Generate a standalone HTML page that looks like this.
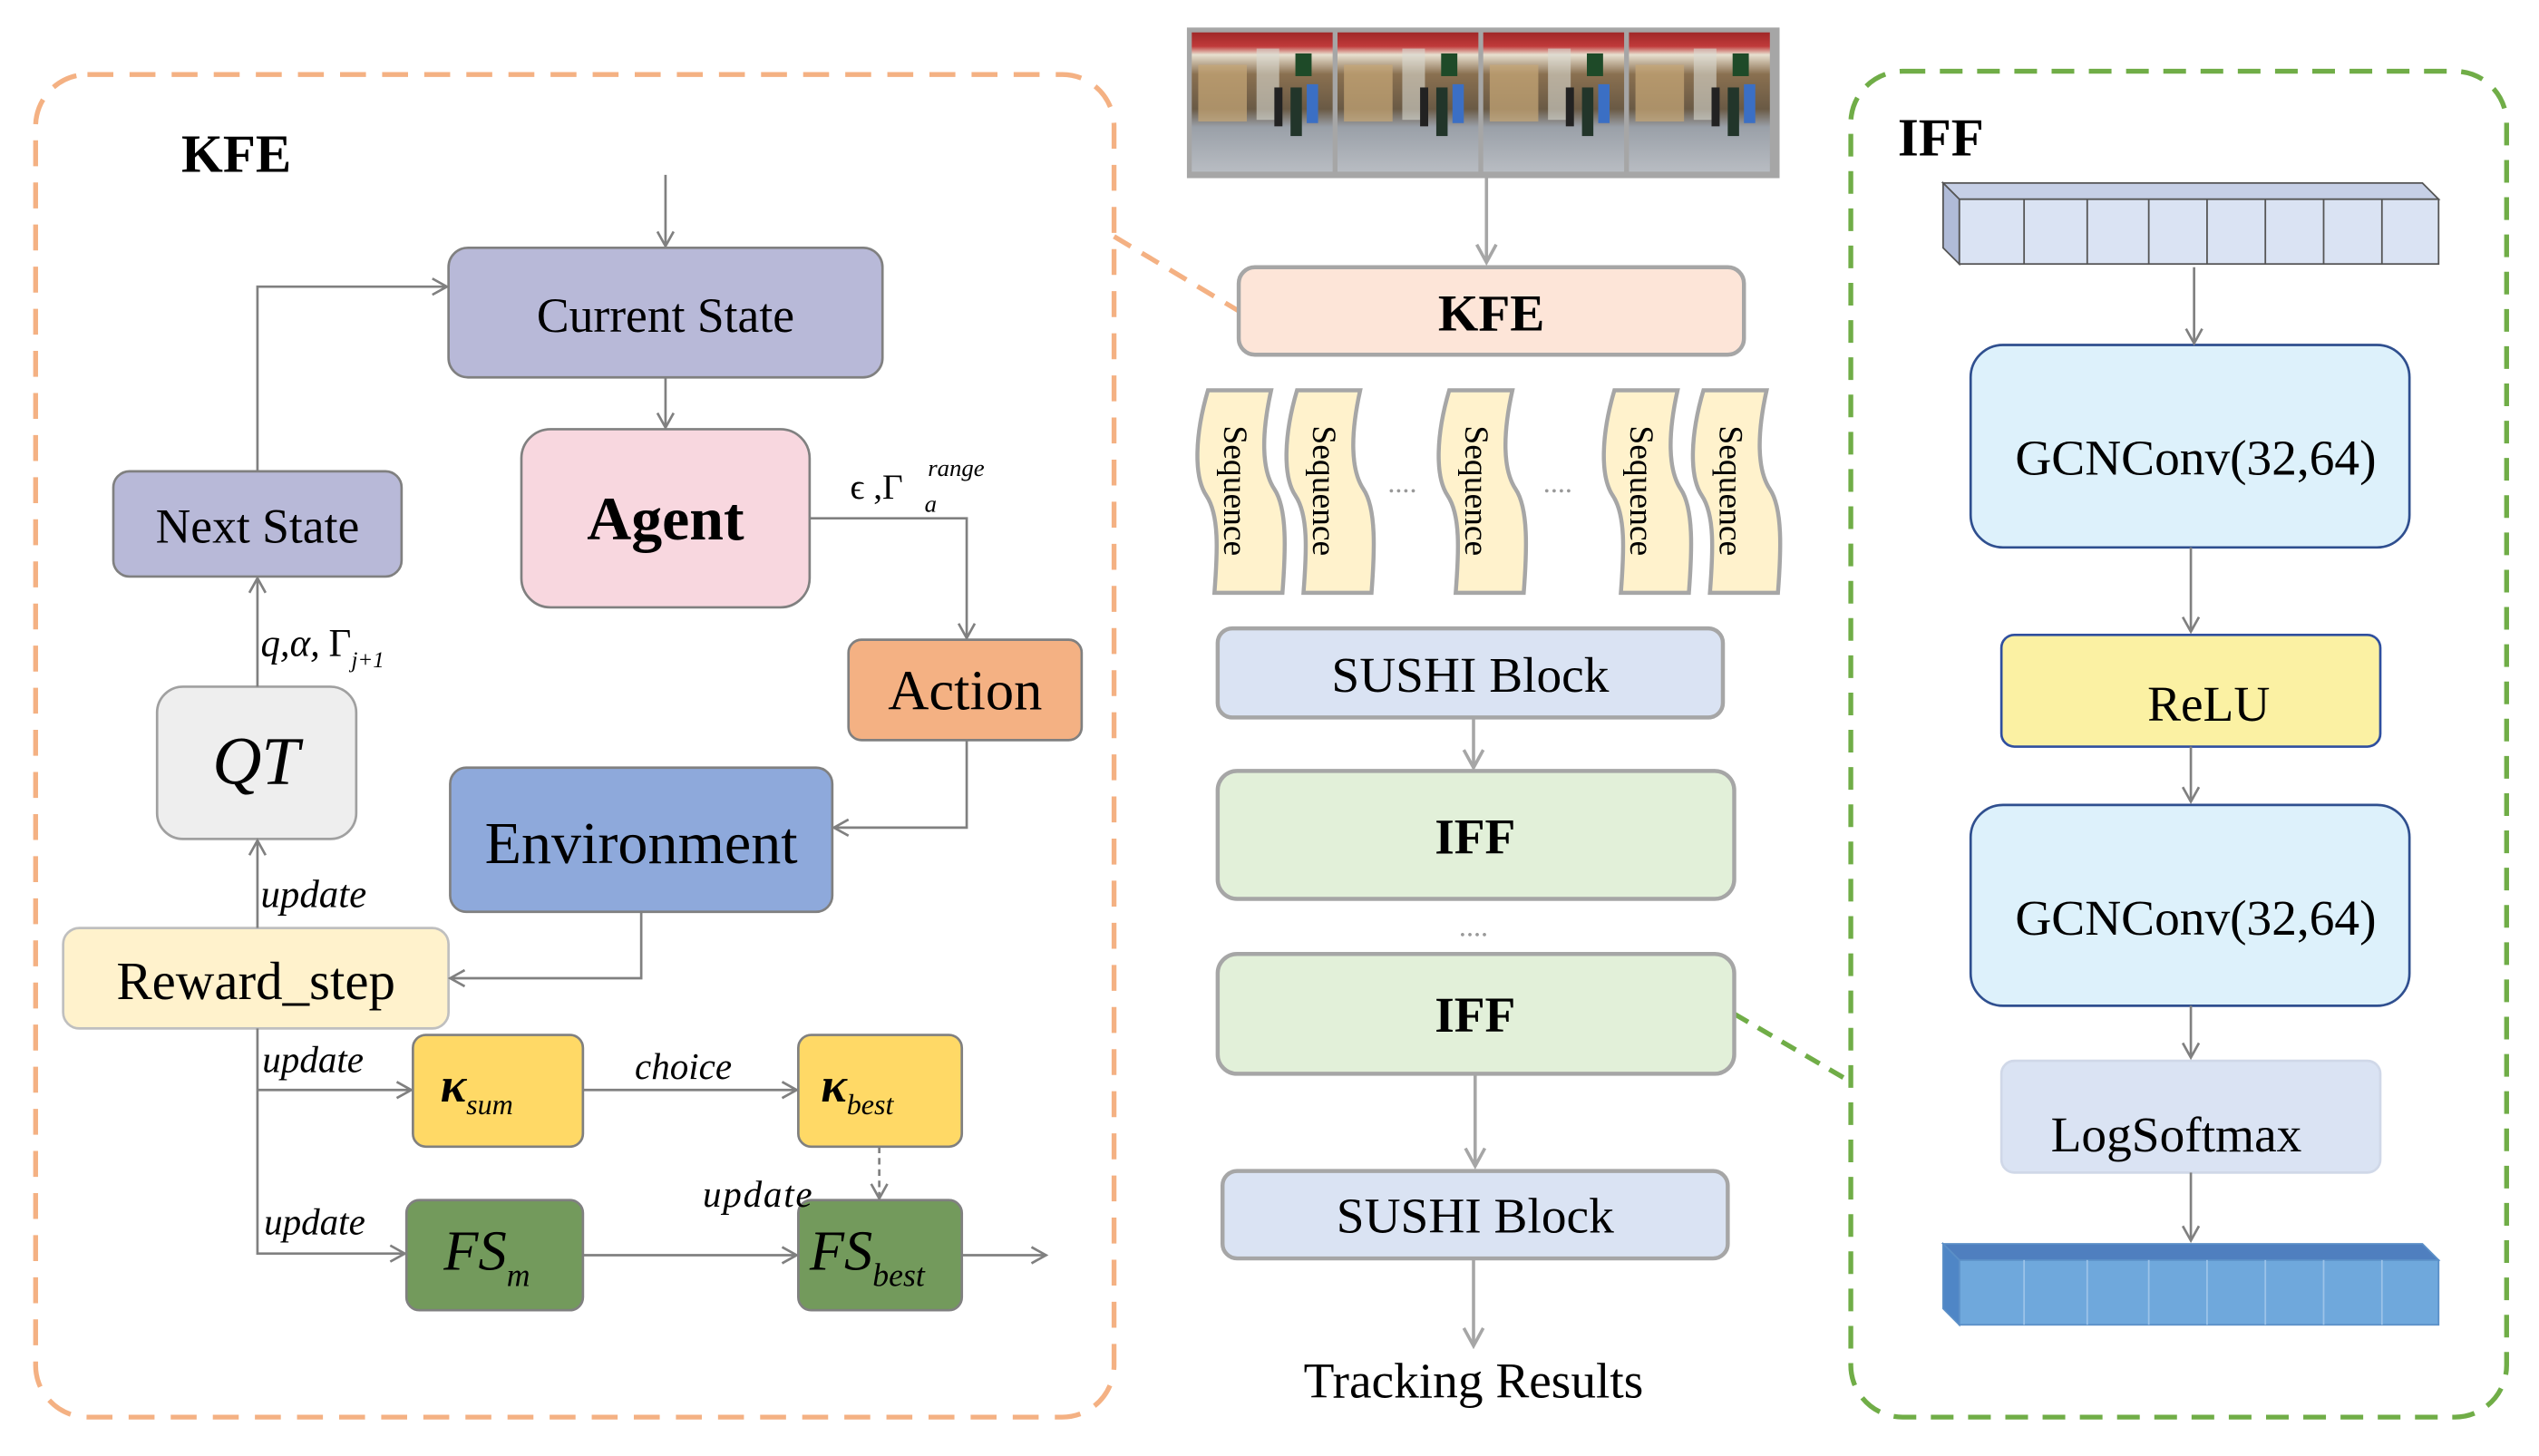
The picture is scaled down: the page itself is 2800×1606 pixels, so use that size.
<!DOCTYPE html>
<html><head><meta charset="utf-8"><style>
html,body{margin:0;padding:0;background:#fff}
svg{display:block;font-family:"Liberation Serif",serif}
svg text{font-family:"Liberation Serif",serif !important;fill:#000}
</style></head><body>
<svg width="2800" height="1606" viewBox="0 0 1568 899" preserveAspectRatio="none" xmlns="http://www.w3.org/2000/svg" font-family="Liberation Serif, serif">
<defs>
<marker id="a" markerWidth="12" markerHeight="12" refX="10" refY="6" orient="auto" markerUnits="userSpaceOnUse">
<path d="M1,1 L10,6 L1,11" fill="none" stroke="#808080" stroke-width="1.5"/></marker>
<marker id="b" markerWidth="14" markerHeight="14" refX="12" refY="7" orient="auto" markerUnits="userSpaceOnUse">
<path d="M1,1 L12,7 L1,13" fill="none" stroke="#a6a6a6" stroke-width="2"/></marker>
<linearGradient id="ph" x1="0" y1="0" x2="0" y2="1">
<stop offset="0" stop-color="#a02828"/><stop offset="0.1" stop-color="#c03a3a"/><stop offset="0.16" stop-color="#e8e0d0"/><stop offset="0.3" stop-color="#8a7050"/><stop offset="0.55" stop-color="#6a5a45"/><stop offset="0.68" stop-color="#9aa0a8"/><stop offset="1" stop-color="#b8bcc2"/></linearGradient>
</defs>
<!-- left dashed -->
<rect x="22" y="46" width="666" height="829" rx="32" fill="none" stroke="#F4B183" stroke-width="3" stroke-dasharray="16,10"/>
<line x1="688" y1="146" x2="765" y2="192" stroke="#F4B183" stroke-width="3" stroke-dasharray="12,8"/>
<!-- right dashed -->
<rect x="1143" y="44" width="405" height="831" rx="32" fill="none" stroke="#70AD47" stroke-width="3" stroke-dasharray="14,9"/>
<line x1="1071" y1="626" x2="1143" y2="668" stroke="#70AD47" stroke-width="3" stroke-dasharray="10,7"/>

<text x="112" y="106" font-size="33" font-weight="bold">KFE</text>
<text x="1172" y="96" font-size="33" font-weight="bold">IFF</text>

<!-- left nodes -->
<g stroke="#808080" stroke-width="1.5">
<rect x="277" y="153" width="268" height="80" rx="12" fill="#B8B9D8"/>
<rect x="322" y="265" width="178" height="110" rx="18" fill="#F8D7DF"/>
<rect x="70" y="291" width="178" height="65" rx="10" fill="#B8B9D8"/>
<rect x="524" y="395" width="144" height="62" rx="8" fill="#F4B183"/>
<rect x="97" y="424" width="123" height="94" rx="16" fill="#EEEEEE" stroke="#a0a0a0"/>
<rect x="278" y="474" width="236" height="89" rx="10" fill="#8EA9DB"/>
<rect x="39" y="573" width="238" height="62" rx="10" fill="#FFF2CC" stroke="#bfbfbf"/>
<rect x="255" y="639" width="105" height="69" rx="8" fill="#FFD966"/>
<rect x="493" y="639" width="101" height="69" rx="8" fill="#FFD966"/>
<rect x="251" y="741" width="109" height="68" rx="8" fill="#739A5C"/>
<rect x="493" y="741" width="101" height="68" rx="8" fill="#739A5C"/>
</g>
<text x="411" y="205" font-size="30" text-anchor="middle">Current State</text>
<text x="411" y="333" font-size="38" font-weight="bold" text-anchor="middle">Agent</text>
<text x="159" y="335" font-size="30" text-anchor="middle">Next State</text>
<text x="596" y="438" font-size="35" text-anchor="middle">Action</text>
<text x="158" y="484" font-size="42" font-style="italic" text-anchor="middle">QT</text>
<text x="396" y="533" font-size="37" text-anchor="middle">Environment</text>
<text x="158" y="617" font-size="33" text-anchor="middle">Reward_step</text>
<text x="272" y="680" font-size="30" font-style="italic" font-weight="bold">κ<tspan font-size="18" dy="8" font-weight="normal">sum</tspan></text>
<text x="507" y="680" font-size="30" font-style="italic" font-weight="bold">κ<tspan font-size="18" dy="8" font-weight="normal">best</tspan></text>
<text x="274" y="784" font-size="35" font-style="italic">FS<tspan font-size="20" dy="10">m</tspan></text>
<text x="500" y="784" font-size="35" font-style="italic">FS<tspan font-size="20" dy="10">best</tspan></text>

<text x="525" y="308" font-size="22">ϵ ,Γ</text><text x="573" y="294" font-size="15" font-style="italic">range</text><text x="571" y="316" font-size="15" font-style="italic">a</text>
<text x="161" y="405" font-size="24" font-style="italic">q,α,</text><text x="203" y="405" font-size="24">Γ</text><text x="217" y="412" font-size="14" font-style="italic">j+1</text>
<text x="161" y="560" font-size="24" font-style="italic">update</text>
<text x="162" y="662" font-size="23" font-style="italic">update</text>
<text x="392" y="666" font-size="23" font-style="italic">choice</text>
<text x="163" y="762" font-size="23" font-style="italic">update</text>
<text x="434" y="745" font-size="23" font-style="italic" letter-spacing="1">update</text>

<g stroke="#808080" stroke-width="1.5" fill="none">
<line x1="411" y1="108" x2="411" y2="152" marker-end="url(#a)"/>
<line x1="411" y1="233" x2="411" y2="264" marker-end="url(#a)"/>
<polyline points="159,291 159,177 276,177" marker-end="url(#a)"/>
<polyline points="500,320 597,320 597,394" marker-end="url(#a)"/>
<polyline points="597,457 597,511 515,511" marker-end="url(#a)"/>
<polyline points="396,563 396,604 278,604" marker-end="url(#a)"/>
<line x1="159" y1="424" x2="159" y2="357" marker-end="url(#a)"/>
<line x1="159" y1="573" x2="159" y2="519" marker-end="url(#a)"/>
<polyline points="159,635 159,774 250,774" marker-end="url(#a)"/>
<line x1="159" y1="673" x2="254" y2="673" marker-end="url(#a)"/>
<line x1="360" y1="673" x2="492" y2="673" marker-end="url(#a)"/>
<line x1="360" y1="775" x2="492" y2="775" marker-end="url(#a)"/>
<line x1="594" y1="775" x2="646" y2="775" marker-end="url(#a)"/>
<line x1="543" y1="708" x2="543" y2="740" stroke-dasharray="4,3" marker-end="url(#a)"/>
</g>

<!-- middle photos -->
<rect x="733" y="17" width="366" height="93" fill="#a6a6a6"/>
<g id="p1">
<rect x="736" y="20" width="87" height="86" fill="url(#ph)"/>
<rect x="740" y="40" width="30" height="35" fill="#c8a878" opacity="0.7"/>
<rect x="776" y="30" width="14" height="44" fill="#d8d8d0" opacity="0.6"/>
<rect x="800" y="33" width="10" height="14" fill="#1e4a28"/>
<rect x="807" y="52" width="7" height="24" fill="#3b6fc4"/>
<rect x="797" y="54" width="7" height="30" fill="#22352a"/>
<rect x="787" y="54" width="5" height="24" fill="#222"/>
</g>
<use href="#p1" x="90"/><use href="#p1" x="180"/><use href="#p1" x="270"/>
<line x1="918" y1="110" x2="918" y2="162" stroke="#a6a6a6" stroke-width="2" marker-end="url(#b)"/>
<rect x="765" y="165" width="312" height="54" rx="10" fill="#FDE5D8" stroke="#a6a6a6" stroke-width="2.5"/>
<text x="921" y="204" font-size="32" font-weight="bold" text-anchor="middle">KFE</text>

<g fill="#FFF2CC" stroke="#a6a6a6" stroke-width="2.5">
<path id="s1" d="M746,241 L785,241 C779,268 779,290 787,302 C795,314 794,340 792,366 L750,366 C752,340 753,318 745,306 C737,294 738,268 746,241 Z"/>
<use href="#s1" x="55"/><use href="#s1" x="149"/><use href="#s1" x="251"/><use href="#s1" x="306"/>
</g>
<text transform="translate(756,303) rotate(90)" text-anchor="middle" font-size="21">Sequence</text>
<text transform="translate(811,303) rotate(90)" text-anchor="middle" font-size="21">Sequence</text>
<text transform="translate(905,303) rotate(90)" text-anchor="middle" font-size="21">Sequence</text>
<text transform="translate(1007,303) rotate(90)" text-anchor="middle" font-size="21">Sequence</text>
<text transform="translate(1062,303) rotate(90)" text-anchor="middle" font-size="21">Sequence</text>
<text x="866" y="304" font-size="18" text-anchor="middle" style="fill:#999">....</text>
<text x="962" y="304" font-size="18" text-anchor="middle" style="fill:#999">....</text>

<g stroke="#a6a6a6" stroke-width="2.5">
<rect x="752" y="388" width="312" height="55" rx="9" fill="#DAE3F3"/>
<rect x="752" y="476" width="319" height="79" rx="12" fill="#E2F0D9"/>
<rect x="752" y="589" width="319" height="74" rx="12" fill="#E2F0D9"/>
<rect x="755" y="723" width="312" height="54" rx="9" fill="#DAE3F3"/>
</g>
<text x="908" y="427" font-size="31" text-anchor="middle">SUSHI Block</text>
<text x="911" y="527" font-size="31" font-weight="bold" text-anchor="middle">IFF</text>
<text x="910" y="578" font-size="18" text-anchor="middle" style="fill:#999">....</text>
<text x="911" y="637" font-size="31" font-weight="bold" text-anchor="middle">IFF</text>
<text x="911" y="761" font-size="31" text-anchor="middle">SUSHI Block</text>
<text x="910" y="863" font-size="31" text-anchor="middle">Tracking Results</text>
<g stroke="#a6a6a6" stroke-width="2" fill="none">
<line x1="910" y1="443" x2="910" y2="474" marker-end="url(#b)"/>
<line x1="911" y1="663" x2="911" y2="720" marker-end="url(#b)"/>
<line x1="910" y1="777" x2="910" y2="831" marker-end="url(#b)"/>
</g>

<!-- right -->
<g stroke="#555" stroke-width="1">
<polygon points="1200,113 1496,113 1506,123 1210,123" fill="#c6cfe6"/>
<rect x="1210" y="123" width="296" height="40" fill="#DAE3F3"/>
<polygon points="1200,113 1210,123 1210,163 1200,153" fill="#b0bbd8"/>
<line x1="1250" y1="123" x2="1250" y2="163"/><line x1="1289" y1="123" x2="1289" y2="163"/><line x1="1327" y1="123" x2="1327" y2="163"/><line x1="1363" y1="123" x2="1363" y2="163"/><line x1="1399" y1="123" x2="1399" y2="163"/><line x1="1435" y1="123" x2="1435" y2="163"/><line x1="1471" y1="123" x2="1471" y2="163"/>
</g>
<g stroke="#5b8fc7" stroke-width="1">
<polygon points="1200,768 1496,768 1506,778 1210,778" fill="#4f7fbf"/>
<rect x="1210" y="778" width="296" height="40" fill="#6FA8DC"/>
<polygon points="1200,768 1210,778 1210,818 1200,808" fill="#4f86c6"/>
<g stroke="#9cc3e8"><line x1="1250" y1="778" x2="1250" y2="818"/><line x1="1289" y1="778" x2="1289" y2="818"/><line x1="1327" y1="778" x2="1327" y2="818"/><line x1="1363" y1="778" x2="1363" y2="818"/><line x1="1399" y1="778" x2="1399" y2="818"/><line x1="1435" y1="778" x2="1435" y2="818"/><line x1="1471" y1="778" x2="1471" y2="818"/></g>
</g>
<rect x="1217" y="213" width="271" height="125" rx="20" fill="#DDF1FB" stroke="#2F4F8F" stroke-width="1.5"/>
<rect x="1236" y="392" width="234" height="69" rx="8" fill="#FBF1A3" stroke="#2F4F9F" stroke-width="1.5"/>
<rect x="1217" y="497" width="271" height="124" rx="20" fill="#DDF1FB" stroke="#2F4F8F" stroke-width="1.5"/>
<rect x="1236" y="655" width="234" height="69" rx="8" fill="#DAE3F3" stroke="#d0d8e8" stroke-width="1.5"/>
<text x="1356" y="293" font-size="31" text-anchor="middle">GCNConv(32,64)</text>
<text x="1364" y="445" font-size="31" text-anchor="middle">ReLU</text>
<text x="1356" y="577" font-size="31" text-anchor="middle">GCNConv(32,64)</text>
<text x="1344" y="711" font-size="31" text-anchor="middle">LogSoftmax</text>
<g stroke="#808080" stroke-width="1.5" fill="none">
<line x1="1355" y1="165" x2="1355" y2="212" marker-end="url(#a)"/>
<line x1="1353" y1="338" x2="1353" y2="390" marker-end="url(#a)"/>
<line x1="1353" y1="461" x2="1353" y2="495" marker-end="url(#a)"/>
<line x1="1353" y1="621" x2="1353" y2="653" marker-end="url(#a)"/>
<line x1="1353" y1="724" x2="1353" y2="766" marker-end="url(#a)"/>
</g>
</svg>
</body></html>
